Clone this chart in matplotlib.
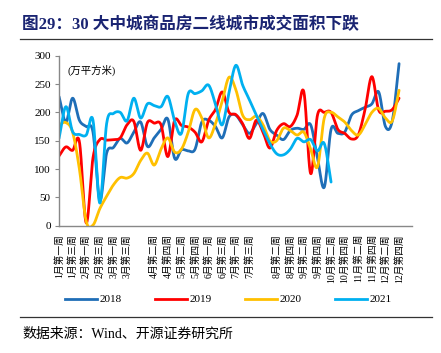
import numpy as np
import matplotlib
matplotlib.use("Agg")
import matplotlib.pyplot as plt
from matplotlib.lines import Line2D

# ---------------- data ----------------
tick_labels = ["1月第一周", "1月第三周", "2月第一周", "2月第三周", "3月第一周", "3月第三周", "",
               "4月第二周", "4月第四周", "5月第二周", "5月第四周", "6月第一周", "6月第三周",
               "7月第一周", "7月第三周", "",
               "8月第二周", "8月第四周", "9月第二周", "9月第四周", "10月第二周", "10月第四周",
               "11月第二周", "11月第四周", "12月第二周", "12月第四周"]

s2018 = [228, 183, 225, 186, 175, 165, 45, 128, 138, 154,
         146, 165, 183, 140, 155, 170, 188, 119, 134, 132,
         135, 183, 186, 175, 155, 192, 195, 178, 163, 180,
         198, 170, 160, 152, 168, 172, 170, 178, 120, 68,
         170, 163, 165, 195, 203, 209, 215, 236, 175, 185, 286]
s2019 = [123, 139, 133, 148, 5, 120, 152, 151, 152, 155,
         178, 184, 133, 182, 181, 178, 122, 186, 177, 174,
         165, 148, 186, 205, 236, 200, 196, 180, 154, 186,
         165, 137, 168, 180, 175, 195, 236, 92, 195, 200,
         200, 170, 163, 153, 160, 205, 263, 204, 202, 205, 225]
s2020 = [178, 182, 165, 100, 8, 1, 30, 52, 72, 85,
         84, 92, 115, 128, 107, 135, 155, 130, 135, 165,
         205, 190, 155, 180, 220, 262, 240, 195, 187, 193,
         178, 150, 150, 172, 168, 160, 165, 135, 104, 190,
         200, 192, 183, 168, 160, 178, 200, 207, 190, 185, 239]
s2021 = [154, 210, 166, 161, 160, 186, 40, 180, 198, 200,
         185, 225, 190, 215, 212, 210, 228, 185, 163, 233,
         233, 238, 248, 215, 178, 235, 283, 248, 222, 195,
         170, 145, 127, 125, 135, 154, 148, 152, 132, 145, 77]

series = [("2018", s2018, "#1F6EB7"),
          ("2019", s2019, "#FF0000"),
          ("2020", s2020, "#FFC000"),
          ("2021", s2021, "#00B0F0")]

CN = ["Liberation Serif", "Noto Sans CJK SC"]
plt.rcParams["font.family"] = CN


def smooth(y, n=24):
    """Catmull-Rom smoothing (like Excel's smoothed line) for drawing."""
    y = np.asarray(y, float)
    x = np.arange(len(y), dtype=float)
    px = np.concatenate([[2 * x[0] - x[1]], x, [2 * x[-1] - x[-2]]])
    py = np.concatenate([[2 * y[0] - y[1]], y, [2 * y[-1] - y[-2]]])
    xs, ys = [], []
    t = np.linspace(0, 1, n, endpoint=False)
    for i in range(1, len(px) - 2):
        for P, out in ((px, xs), (py, ys)):
            p0, p1, p2, p3 = P[i - 1], P[i], P[i + 1], P[i + 2]
            out.append(0.5 * ((2 * p1) + (-p0 + p2) * t +
                              (2 * p0 - 5 * p1 + 4 * p2 - p3) * t ** 2 +
                              (-p0 + 3 * p1 - 3 * p2 + p3) * t ** 3))
    xs.append(np.array([x[-1]]))
    ys.append(np.array([y[-1]]))
    return np.concatenate(xs), np.concatenate(ys)


W, H = 441, 353
fig = plt.figure(figsize=(W / 100, H / 100), dpi=100)

# title
fig.text(22 / W, 1 - 25 / H, "图29：30 大中城商品房二线城市成交面积下跌",
         fontsize=12, fontweight="bold", color="#1A2472", va="center", ha="left",
         family=CN)
fig.add_artist(Line2D([20 / W, 432 / W], [1 - 39 / H, 1 - 39 / H], color="#333333", lw=0.9))

ax = fig.add_axes([59 / W, (H - 225.7) / H, (412 - 59) / W, 170 / H])
for name, vals, col in series:
    xs, ys = smooth(vals)
    ax.plot(xs, ys, color=col, lw=2.0, solid_capstyle="round", solid_joinstyle="round")

ax.set_xlim(0, 51.9)
ax.set_ylim(0, 300)
ax.set_yticks(range(0, 301, 50))
ax.set_xticks(range(0, 2 * len(tick_labels), 2))
ax.set_xticklabels(tick_labels, rotation=90, fontsize=7, family=CN)
ax.tick_params(axis="x", length=0, pad=6)
ax.tick_params(axis="y", length=3, width=0.8, color="#888888", labelsize=8, pad=3)
for s in ("top", "right"):
    ax.spines[s].set_visible(False)
for s in ("left", "bottom"):
    ax.spines[s].set_color("#888888")
    ax.spines[s].set_linewidth(1.0)
for lab in ax.get_yticklabels():
    lab.set_family(CN)

ax.text(0.023, 0.915, "(万平方米)", transform=ax.transAxes, fontsize=7.5,
        ha="left", va="center", family=CN)

# legend
lx = [65, 155, 245, 335]
for (name, vals, col), x0 in zip(series, lx):
    fig.add_artist(Line2D([x0 / W, (x0 + 32) / W], [1 - 299 / H, 1 - 299 / H], color=col, lw=2.0))
    fig.text((x0 + 35) / W, 1 - 299 / H, name, fontsize=8, va="center", ha="left", family=CN)

fig.add_artist(Line2D([20 / W, 432 / W], [1 - 317 / H, 1 - 317 / H], color="#333333", lw=0.9))
fig.text(22 / W, 1 - 334 / H, "数据来源：Wind、开源证券研究所", fontsize=10,
         va="center", ha="left", family=CN)

fig.savefig("out.png", dpi=100)
